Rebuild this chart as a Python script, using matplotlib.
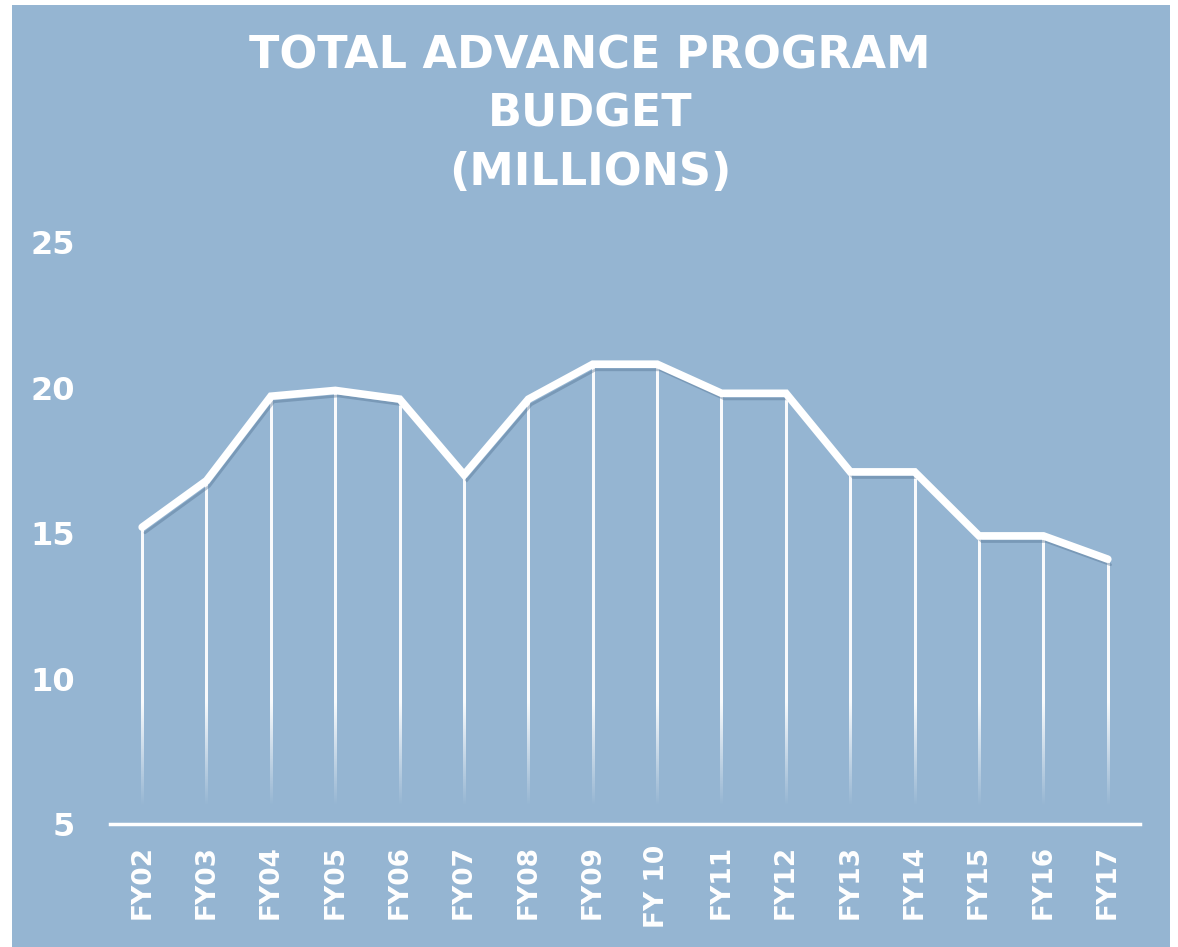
import numpy as np
import matplotlib
matplotlib.use('Agg')
import matplotlib.pyplot as plt
import matplotlib.patheffects as pe
from matplotlib.patches import Rectangle

years = ['FY02', 'FY03', 'FY04', 'FY05', 'FY06', 'FY07', 'FY08', 'FY09',
         'FY 10', 'FY11', 'FY12', 'FY13', 'FY14', 'FY15', 'FY16', 'FY17']
budget = [15.2, 16.8, 19.7, 19.9, 19.6, 17.0, 19.6, 20.8,
          20.8, 19.8, 19.8, 17.1, 17.1, 14.9, 14.9, 14.1]
yticks = [5, 10, 15, 20, 25]

bg = '#95b5d2'
W, H = 1178, 947

fig = plt.figure(figsize=(W / 100, H / 100), dpi=100)
fig.patch.set_facecolor('white')
fig.patches.append(Rectangle((12 / W, 0), (1170 - 12) / W, (H - 5) / H,
                             transform=fig.transFigure, facecolor=bg,
                             edgecolor='none', zorder=-5))

ax = fig.add_axes([110 / W, (H - 824) / H, (1140 - 110) / W, (824 - 242) / H])
ax.set_facecolor('none')
ax.set_zorder(2)
x = np.arange(len(years))

# drop lines: white fading out toward the bottom
half_w = 1.1 / 64.4
for xi, v in zip(x, budget):
    ys = np.linspace(v, 5, 200)
    alpha = np.clip((ys - 5.6) / 3.6, 0, 1) * 0.95
    img = np.ones((len(ys), 1, 4))
    img[:, 0, 3] = alpha
    ax.imshow(img, extent=(xi - half_w, xi + half_w, 5, v), aspect='auto',
              interpolation='bilinear', zorder=2)

ax.plot(x, budget, color='white', lw=5.5, solid_capstyle='round',
        solid_joinstyle='miter', zorder=3,
        path_effects=[pe.SimpleLineShadow(offset=(2, -4), shadow_color='#4f6f8f',
                                          alpha=0.4, linewidth=2.0),
                      pe.Normal()])

ax.set_xlim(-0.5, 15.5)
ax.set_ylim(5, 25)
ax.set_yticks(yticks)
ax.set_xticks(x)
ax.set_xticklabels(years, rotation=90, fontsize=19, fontweight='bold',
                   color='white', va='top')
ax.set_yticklabels([str(t) for t in yticks], fontsize=23, fontweight='bold',
                   color='white')
ax.tick_params(axis='both', length=0)
ax.tick_params(axis='x', pad=15)
ax.tick_params(axis='y', pad=25)
for s in ['top', 'right', 'left']:
    ax.spines[s].set_visible(False)
ax.spines['bottom'].set_color('white')
ax.spines['bottom'].set_linewidth(2.5)

fig.text(590 / W, 1 - 114 / H, 'TOTAL ADVANCE PROGRAM\nBUDGET\n(MILLIONS)',
         ha='center', va='center', fontsize=32, fontweight='bold',
         color='white', linespacing=1.45, zorder=3)

fig.savefig('out.png', dpi=100)
